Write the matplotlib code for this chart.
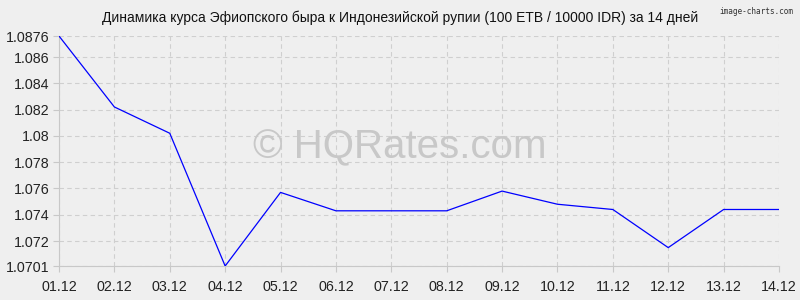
import numpy as np
import matplotlib.pyplot as plt

# Data
dates = ['01.12', '02.12', '03.12', '04.12', '05.12', '06.12', '07.12',
         '08.12', '09.12', '10.12', '11.12', '12.12', '13.12', '14.12']
rates = [1.0876, 1.0822, 1.0802, 1.0701, 1.0757, 1.0743, 1.0743,
         1.0743, 1.0758, 1.0748, 1.0744, 1.0715, 1.0744, 1.0744]
y_ticks = [1.0701, 1.072, 1.074, 1.076, 1.078, 1.08, 1.082, 1.084, 1.086, 1.0876]
y_labels = ['1.0701', '1.072', '1.074', '1.076', '1.078', '1.08', '1.082', '1.084', '1.086', '1.0876']

plt.rcParams['font.family'] = ['Liberation Sans', 'DejaVu Sans']

fig = plt.figure(figsize=(8, 3), dpi=100, facecolor='#efefef')
ax = fig.add_axes([0.07375, 0.1133, 0.9, 0.7667])
ax.set_facecolor('#efefef')

x = np.arange(len(dates))
ax.plot(x, rates, color='#0000ff', linewidth=0.9, zorder=3)

ax.set_xlim(0, len(dates) - 1)
ax.set_ylim(1.0701, 1.0876)
ax.set_xticks(x)
ax.set_xticklabels(dates, fontsize=10.3, color='#222222')
ax.set_yticks(y_ticks)
ax.set_yticklabels(y_labels, fontsize=10.3, color='#222222')

ax.grid(True, linestyle=(0, (4, 3)), color='#cfcfcf', linewidth=0.8)
for s in ['top', 'right']:
    ax.spines[s].set_visible(False)
for s in ['left', 'bottom']:
    ax.spines[s].set_color('#c8c8c8')
    ax.spines[s].set_linewidth(0.8)
ax.tick_params(length=4, color='#c8c8c8')
ax.tick_params(axis='x', pad=6)
ax.tick_params(axis='y', pad=3)

fig.text(0.5, 0.94, 'Динамика курса Эфиопского быра к Индонезийской рупии (100 ETB / 10000 IDR) за 14 дней',
         ha='center', va='center', fontsize=10, color='#111111')
fig.text(0.992, 0.96, 'image-charts.com', ha='right', va='center', fontsize=5.6,
         family='DejaVu Sans Mono', color='#333333')
fig.text(0.5, 0.51, '© HQRates.com', ha='center', va='center',
         fontsize=29, color='#c8c8c8', zorder=1)

plt.savefig('out.png', dpi=100, facecolor='#efefef')
